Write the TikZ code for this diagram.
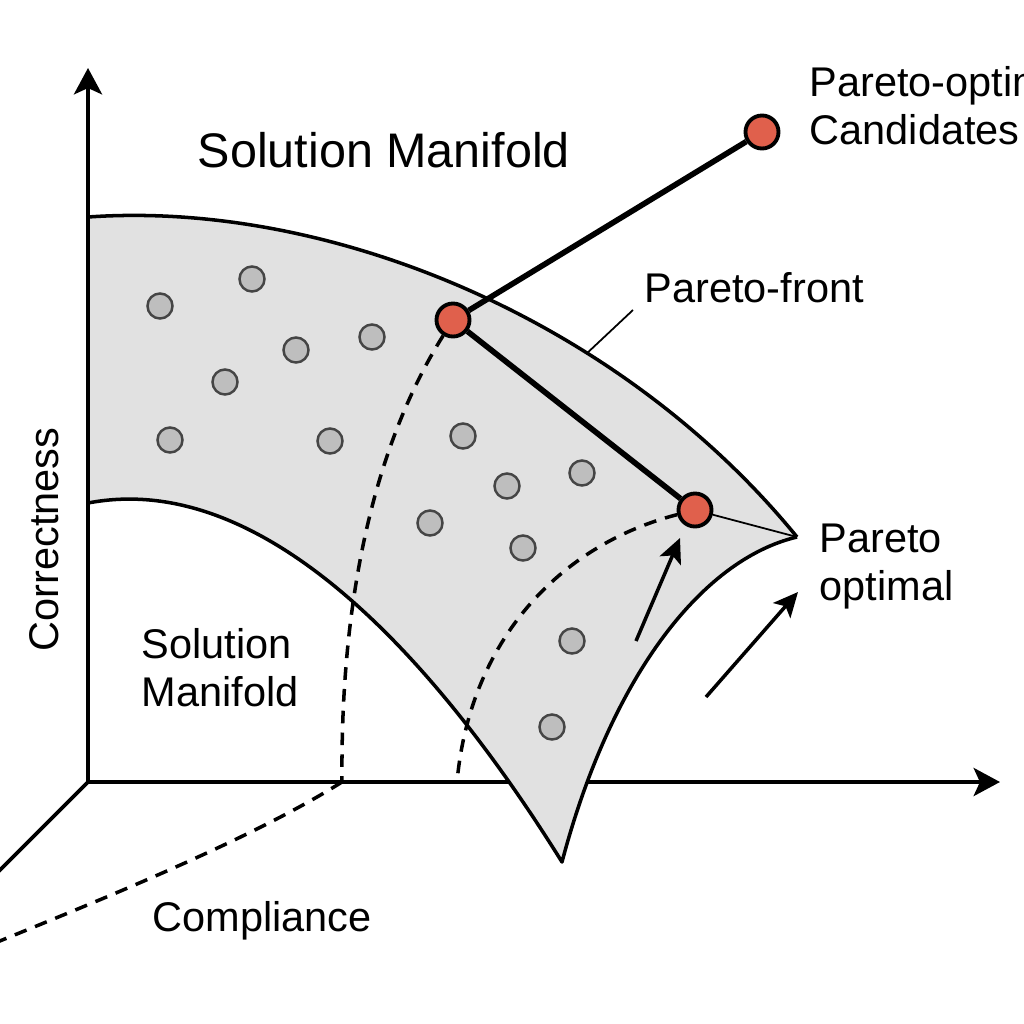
\documentclass[tikz,border=0pt]{standalone}
\usepackage{fontspec}
\setmainfont{Liberation Sans}
\usetikzlibrary{arrows.meta}
\definecolor{manfill}{HTML}{E1E1E1}
\definecolor{dotfill}{HTML}{BEBEBE}
\definecolor{dotline}{HTML}{454545}
\definecolor{redfill}{HTML}{E0604C}
\begin{document}
\begin{tikzpicture}[x=0.01cm,y=-0.01cm,
  lbl/.style={font=\fontsize{11.8}{14}\selectfont, inner sep=0pt, anchor=base west},
  axisline/.style={line width=1.1pt, -{Stealth[length=7.5pt,width=8pt,inset=1.8pt]}},
  edgeline/.style={line width=1pt, line join=round},
  dashline/.style={line width=1pt, dash pattern=on 3.6pt off 2.6pt},
  graydot/.style={circle, fill=dotfill, draw=dotline, line width=0.7pt, minimum size=0.25cm, inner sep=0pt},
  reddot/.style={circle, fill=redfill, draw=black, line width=1.1pt, minimum size=0.33cm, inner sep=0pt},
  thickline/.style={line width=1.6pt},
  thinline/.style={line width=0.5pt},
  arrline/.style={line width=1pt, -{Stealth[length=7pt,width=6.5pt,inset=1.6pt]}}
]
\useasboundingbox (0,0) rectangle (1024,1024);
\clip (0,0) rectangle (1024,1024);

% coordinates
\coordinate (O) at (88,782);
\coordinate (yend) at (88,68);
\coordinate (xend) at (1000,782);
\coordinate (zend) at (-20,890);
\coordinate (tip) at (797,537);
\coordinate (d1) at (342,782);
\coordinate (d2) at (457,782);

% x axis (partly hidden by the manifold)
\draw[axisline] (O) -- (xend);

% manifold
\fill[manfill] (88,217) .. controls (330,200) and (620,320) .. (tip)
  .. controls (700,560) and (610,680) .. (562,862)
  .. controls (430,650) and (260,470) .. (88,503) -- cycle;
\draw[edgeline] (88,217) .. controls (330,200) and (620,320) .. coordinate[pos=0.665] (pf) (tip);
\draw[edgeline] (tip) .. controls (700,560) and (610,680) .. (562,862)
  .. controls (430,650) and (260,470) .. (88,503);

% y axis and depth axis
\draw[axisline] (O) -- (yend);
\draw[line width=1.1pt] (O) -- (zend);

% gray dots
\foreach \x/\y [count=\i] in {160/306,252/279,296/350,372/337,225/382,170/440,330/441,463/436,507/486,582/473,430/523,523/548,572/641,552/727}
  \node[graydot] (g\i) at (\x,\y) {};

% red dots
\node[reddot] (r1) at (453,320) {};
\node[reddot] (r2) at (695,510) {};
\node[reddot] (r3) at (762,132) {};

% dashed curves
\draw[dashline] (r1) .. controls (390,420) and (340,560) .. (d1);
\draw[dashline] (r2) .. controls (560,545) and (470,640) .. (d2);
\draw[dashline] (d1) .. controls (250,840) and (100,900) .. (-10,945);

% connectors
\draw[thickline] (r3) -- (r1);
\draw[thickline] (r1) -- (r2);
\draw[thinline] (r2) -- (tip);

% leader
\coordinate (pfl) at (633,310);
\draw[thinline] (pfl) -- (pf);

% arrows
\coordinate (a1s) at (636,641);
\coordinate (a1e) at (680,538);
\coordinate (a2s) at (706,697);
\coordinate (a2e) at (798,592);
\draw[arrline] (a1s) -- (a1e);
\draw[arrline] (a2s) -- (a2e);

% texts
\node[lbl, font=\fontsize{13.8}{16}\selectfont] (t1) at (197,167) {Solution Manifold};
\node[lbl] (t2) at (809,97) {Pareto-optimal};
\node[lbl] (t3) at (809,144) {Candidates};
\node[lbl] (t4) at (644,302) {Pareto-front};
\node[lbl] (t5) at (819,552) {Pareto};
\node[lbl] (t6) at (819,600) {optimal};
\node[lbl] (t7) at (141,658) {Solution};
\node[lbl] (t8) at (141,706) {Manifold};
\node[lbl] (t9) at (152,931) {Compliance};
\node[lbl, rotate=90] (t10) at (58,652) {Correctness};
\end{tikzpicture}
\end{document}
